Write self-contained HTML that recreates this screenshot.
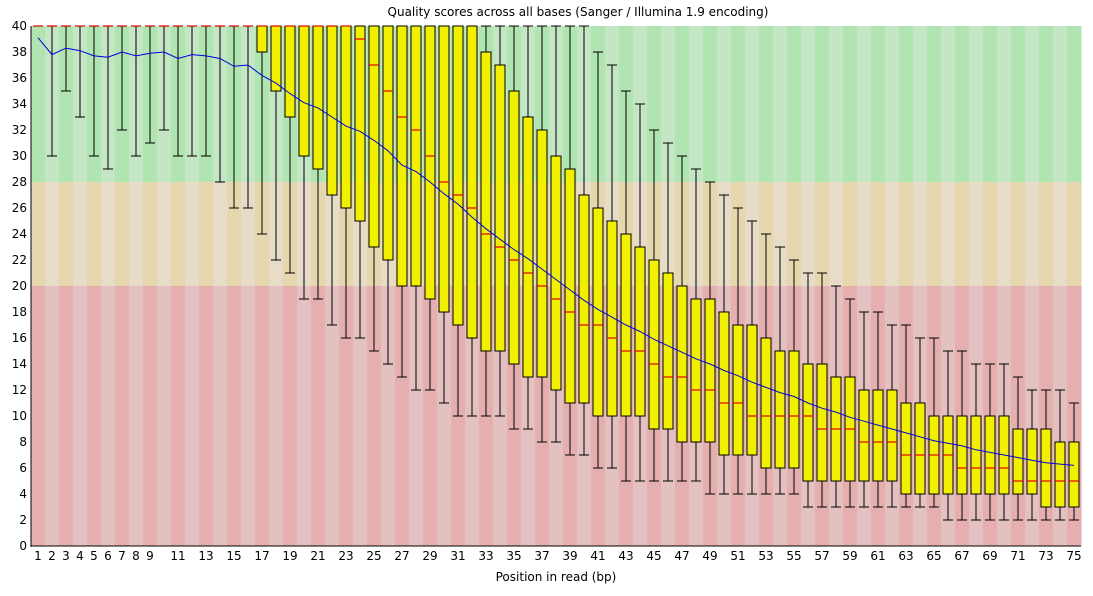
<!DOCTYPE html>
<html><head><meta charset="utf-8"><style>
body{margin:0;background:#fff;}
svg text{font-family:"DejaVu Sans","Liberation Sans",sans-serif;font-size:12px;fill:#000;}
</style></head><body>
<svg id="chart" width="1093" height="591" xmlns="http://www.w3.org/2000/svg">
<text x="578" y="16" text-anchor="middle">Quality scores across all bases (Sanger / Illumina 1.9 encoding)</text>
<g id="bg"></g><g id="marks"></g><g id="axes"></g>
<text x="556" y="581" text-anchor="middle">Position in read (bp)</text>
</svg>
<script>
const positions=[];for(let i=1;i<=75;i++)positions.push(i);
const lowWhisker=[40,30,35,33,30,29,32,30,31,32,30,30,30,28,26,26,24,22,21,19,19,17,16,16,15,14,13,12,12,11,10,10,10,10,9,9,8,8,7,7,6,6,5,5,5,5,5,5,4,4,4,4,4,4,4,3,3,3,3,3,3,3,3,3,3,2,2,2,2,2,2,2,2,2,2];
const q1=[40,40,40,40,40,40,40,40,40,40,40,40,40,40,40,40,38,35,33,30,29,27,26,25,23,22,20,20,19,18,17,16,15,15,14,13,13,12,11,11,10,10,10,10,9,9,8,8,8,7,7,7,6,6,6,5,5,5,5,5,5,5,4,4,4,4,4,4,4,4,4,4,3,3,3];
const medians=[40,40,40,40,40,40,40,40,40,40,40,40,40,40,40,40,40,40,40,40,40,40,40,39,37,35,33,32,30,28,27,26,24,23,22,21,20,19,18,17,17,16,15,15,14,13,13,12,12,11,11,10,10,10,10,10,9,9,9,8,8,8,7,7,7,7,6,6,6,6,5,5,5,5,5];
const q3=[40,40,40,40,40,40,40,40,40,40,40,40,40,40,40,40,40,40,40,40,40,40,40,40,40,40,40,40,40,40,40,40,38,37,35,33,32,30,29,27,26,25,24,23,22,21,20,19,19,18,17,17,16,15,15,14,14,13,13,12,12,12,11,11,10,10,10,10,10,10,9,9,9,8,8];
const highWhisker=[40,40,40,40,40,40,40,40,40,40,40,40,40,40,40,40,40,40,40,40,40,40,40,40,40,40,40,40,40,40,40,40,40,40,40,40,40,40,40,40,38,37,35,34,32,31,30,29,28,27,26,25,24,23,22,21,21,20,19,18,18,17,17,16,16,15,15,14,14,14,13,12,12,12,11];
const means=[39.1,37.8,38.3,38.1,37.7,37.6,38.0,37.7,37.9,38.0,37.5,37.8,37.7,37.5,36.9,37.0,36.2,35.6,34.8,34.1,33.7,33.0,32.3,31.9,31.2,30.4,29.3,28.8,28.0,27.1,26.3,25.3,24.4,23.6,22.8,22.1,21.3,20.5,19.7,18.9,18.2,17.6,17.0,16.5,15.9,15.4,14.9,14.4,14.0,13.5,13.1,12.6,12.2,11.8,11.5,11.0,10.6,10.3,9.9,9.6,9.3,9.0,8.7,8.4,8.1,7.9,7.7,7.4,7.2,7.0,6.8,6.6,6.4,6.3,6.2];
const yTicks=[0,2,4,6,8,10,12,14,16,18,20,22,24,26,28,30,32,34,36,38,40];
const xTickLabels=[1,2,3,4,5,6,7,8,9,11,13,15,17,19,21,23,25,27,29,31,33,35,37,39,41,43,45,47,49,51,53,55,57,59,61,63,65,67,69,71,73,75];

const L=31,R=1081,T=26,B=546,N=positions.length,W=(R-L)/N;
const y=v=>B-(B-T)*v/40;
const xc=p=>L+W*(p-0.5);
const NS='http://www.w3.org/2000/svg';
function mk(tag,attrs,parent){const e=document.createElementNS(NS,tag);for(const k in attrs)e.setAttribute(k,attrs[k]);parent.appendChild(e);return e;}
const bg=document.getElementById('bg'),marks=document.getElementById('marks'),axes=document.getElementById('axes');
const bands=[[28,40,'#b0e4b0','#c4e6c4'],[20,28,'#e6d7ae','#e6dcc7'],[0,20,'#e5afb0','#e4c1c1']];
bands.forEach(b=>{positions.forEach((p,i)=>{
 const r=mk('rect',{x:L+W*i,y:y(b[1]),width:W+0.5,height:y(b[0])-y(b[1]),fill:i%2?b[3]:b[2]},bg);
 
 
});});
positions.forEach((p,i)=>{
 const g=mk('g',{},marks);
 
 
 const cx=xc(p),hw=5;
 mk('line',{x1:cx,x2:cx,y1:y(highWhisker[i]),y2:y(lowWhisker[i]),stroke:'#000','stroke-width':1},g);
 mk('line',{x1:cx-hw,x2:cx+hw,y1:y(highWhisker[i]),y2:y(highWhisker[i]),stroke:'#000'},g);
 mk('line',{x1:cx-hw,x2:cx+hw,y1:y(lowWhisker[i]),y2:y(lowWhisker[i]),stroke:'#000'},g);
 if(q3[i]>q1[i])mk('rect',{x:cx-hw,y:y(q3[i]),width:hw*2,height:y(q1[i])-y(q3[i]),fill:'#f0f000',stroke:'#000','stroke-width':1},g);
 mk('line',{x1:cx-hw,x2:cx+hw,y1:y(medians[i]),y2:y(medians[i]),stroke:'#e00000','stroke-width':1.2},g);
});
const pl=mk('polyline',{points:positions.map((p,i)=>xc(p)+','+y(means[i])).join(' '),fill:'none',stroke:'#0000e0','stroke-width':1},marks);


mk('line',{x1:L,x2:L,y1:T,y2:B+1,stroke:'#000'},axes);
mk('line',{x1:L,x2:R,y1:B,y2:B,stroke:'#000'},axes);
yTicks.forEach(v=>{const t=mk('text',{x:27,y:y(v)+4,'text-anchor':'end'},axes);t.textContent=v;
 
 });
xTickLabels.forEach(v=>{const t=mk('text',{x:xc(v),y:560,'text-anchor':'middle'},axes);t.textContent=v;
 
 });
</script>
</body></html>
